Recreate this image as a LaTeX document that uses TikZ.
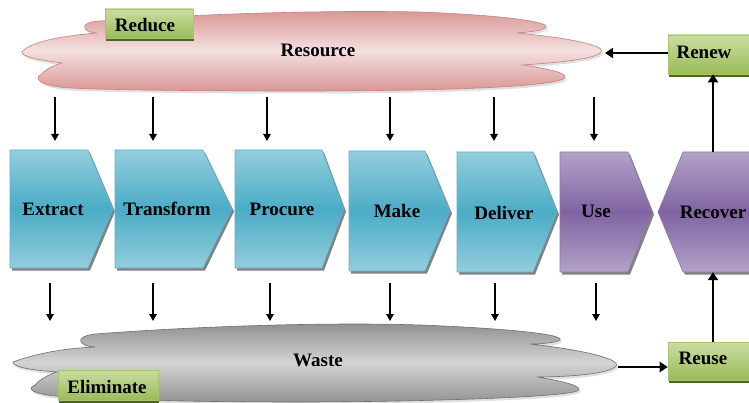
\documentclass[tikz,border=0pt]{standalone}
\usepackage{fontspec}
\setmainfont{Liberation Serif}
\usetikzlibrary{arrows.meta}
\definecolor{cyanlight}{HTML}{93CDDD}
\definecolor{cyandark}{HTML}{4BACC6}
\definecolor{cyanedge}{HTML}{5FB3CA}
\definecolor{purplight}{HTML}{B3A2C7}
\definecolor{purpdark}{HTML}{8064A2}
\definecolor{purpedge}{HTML}{8E76AE}
\definecolor{greenlight}{HTML}{CADDA3}
\definecolor{greendark}{HTML}{9BBB59}
\definecolor{greenedge}{HTML}{A9C56C}
\definecolor{greenshadow}{HTML}{4F6228}
\definecolor{pinkedge}{HTML}{D99694}
\definecolor{pinklight}{HTML}{F4E0E0}
\definecolor{pinkline}{HTML}{C98080}
\definecolor{graydark}{HTML}{8E8E8E}
\definecolor{graylight}{HTML}{D4D4D4}
\definecolor{grayline}{HTML}{6E6E6E}
\begin{document}
\begin{tikzpicture}[x=1pt,y=1pt,
  lbl/.style={font=\fontsize{19}{21}\selectfont\bfseries, text=black, inner sep=0pt},
  arr/.style={line width=1.4pt, -{Triangle[length=7pt,width=7.5pt]}},
  barr/.style={line width=2.8pt, -{Triangle[length=8pt,width=10pt]}},
  chevshadow/.style={preaction={fill=black!70, opacity=0.7, transform canvas={shift={(2pt,-2.5pt)}}}},
  cyanchev/.style={chevshadow, draw=cyanedge, line width=0.6pt, top color=cyanlight, bottom color=cyanlight, middle color=cyandark},
  purpchev/.style={chevshadow, draw=purpedge, line width=0.6pt, top color=purplight, bottom color=purplight, middle color=purpdark},
  gbox/.style={draw=greenedge, line width=0.6pt, top color=greenlight, bottom color=greendark, inner sep=0pt,
    preaction={fill=greenshadow, transform canvas={shift={(0.8pt,-3pt)}}}},
  chevlbl/.style={lbl, minimum height=118pt},
  cloudshadow/.style={preaction={fill=black!35, opacity=0.35, transform canvas={shift={(1.5pt,-2.5pt)}}}}
]
\useasboundingbox (0,0) rectangle (749,-403);

% ---------- Resource cloud ----------
\path[cloudshadow, draw=pinkline, line width=0.6pt, top color=pinkedge, bottom color=pinkedge, middle color=pinklight]
  (22,-52) .. controls (30,-42) and (60,-36) .. (97,-33)
  .. controls (82,-32) and (78,-22) .. (100,-21)
  .. controls (200,-14) and (320,-10) .. (420,-12)
  .. controls (500,-15) and (555,-22) .. (545,-28)
  .. controls (540,-31) and (528,-32) .. (517,-33)
  .. controls (570,-38) and (610,-46) .. (600,-53)
  .. controls (592,-60) and (550,-63) .. (523,-65)
  .. controls (550,-69) and (572,-74) .. (563,-79)
  .. controls (545,-88) and (420,-91) .. (300,-91)
  .. controls (200,-91) and (110,-90) .. (70,-88)
  .. controls (40,-86) and (32,-78) .. (42,-74)
  .. controls (45,-69) and (55,-65) .. (62,-63)
  .. controls (40,-60) and (22,-57) .. (22,-52) -- cycle;
\node[lbl] (resource) at (318,-50) {Resource};
\coordinate (restip) at (601,-53);

% ---------- Waste cloud ----------
\path[cloudshadow, draw=grayline, line width=0.6pt, top color=graydark, bottom color=graydark!95, middle color=graylight]
  (13,-362) .. controls (40,-352) and (70,-348) .. (95,-347)
  .. controls (80,-346) and (72,-337) .. (95,-334)
  .. controls (200,-326) and (330,-322) .. (420,-325)
  .. controls (500,-328) and (565,-334) .. (560,-340)
  .. controls (555,-343) and (540,-344) .. (530,-344)
  .. controls (585,-350) and (625,-360) .. (615,-367)
  .. controls (605,-375) and (560,-377) .. (537,-377)
  .. controls (570,-382) and (585,-388) .. (577,-391)
  .. controls (560,-398) and (400,-402) .. (300,-402)
  .. controls (200,-402) and (100,-400) .. (55,-396)
  .. controls (35,-394) and (25,-389) .. (35,-385)
  .. controls (40,-379) and (50,-374) .. (57,-372)
  .. controls (30,-370) and (13,-367) .. (13,-362) -- cycle;
\node[lbl] (waste) at (318,-360) {Waste};
\coordinate (wastip) at (616,-367);

% ---------- Chevrons ----------
\path[cyanchev] (10,-150) -- (88,-150) -- (113,-209) -- (88,-268) -- (10,-268) -- cycle;
\node[chevlbl] (extract) at (53,-209) {Extract};
\path[cyanchev] (115,-150) -- (203,-150) -- (232,-209) -- (203,-268) -- (115,-268) -- cycle;
\node[chevlbl] (transform) at (167,-209) {Transform};
\path[cyanchev] (235,-150) -- (322,-150) -- (344,-209) -- (322,-268) -- (235,-268) -- cycle;
\node[chevlbl] (procure) at (282,-209) {Procure};
\path[cyanchev] (349,-151) -- (425,-151) -- (450,-211) -- (425,-271) -- (349,-271) -- cycle;
\node[chevlbl] (make) at (397,-211) {Make};
\path[cyanchev] (457,-152) -- (533,-152) -- (557,-212) -- (533,-272) -- (457,-272) -- cycle;
\node[chevlbl] (deliver) at (504,-213) {Deliver};
\path[purpchev] (560,-152) -- (628,-152) -- (652,-212) -- (628,-272) -- (560,-272) -- cycle;
\node[chevlbl] (use) at (596,-211) {Use};
\path[purpchev] (658,-212) -- (683,-152) -- (760,-152) -- (760,-272) -- (683,-272) -- cycle;
\node[chevlbl, minimum height=120pt] (recover) at (713,-212) {Recover};

% ---------- Green boxes ----------
\node[gbox, minimum width=88pt, minimum height=29pt] (reducebox) at (149,-23.5) {};
\node[lbl] (reduce) at (145,-25) {Reduce};
\node[gbox, minimum width=87pt, minimum height=39pt] (renewbox) at (711.5,-54.5) {};
\node[lbl] (renew) at (704,-52) {Renew};
\node[gbox, minimum width=87pt, minimum height=38pt] (reusebox) at (711.5,-361) {};
\node[lbl] (reuse) at (703,-358) {Reuse};
\node[gbox, minimum width=100pt, minimum height=30pt] (eliminatebox) at (108,-385) {};
\node[lbl] (eliminate) at (107,-387) {Eliminate};

% ---------- Arrows ----------
\foreach \x [count=\i] in {55,153,267,390,494,594} {
  \coordinate (ta\i) at (\x,-97);
  \coordinate (tb\i) at (\x,-141);
  \draw[arr] (ta\i) -- (tb\i);
}
\foreach \x [count=\i] in {50,153,270,390,495,596} {
  \coordinate (ba\i) at (\x,-283);
  \coordinate (bb\i) at (\x,-321);
  \draw[arr] (ba\i) -- (bb\i);
}
\draw[barr, shorten >=4pt] (renewbox.west |- restip) -- (restip);
\draw[barr] (recover.north) -- (recover.north |- renewbox.south);
\draw[barr, shorten <=2pt] (wastip) -- (wastip -| reusebox.west);
\draw[barr] (recover.north |- reusebox.north) -- (recover.south);
\end{tikzpicture}
\end{document}
